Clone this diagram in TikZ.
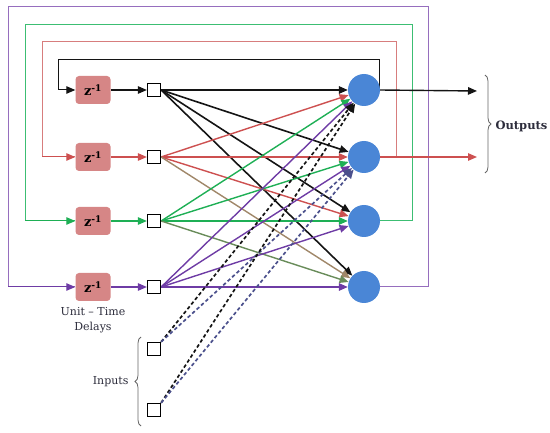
\documentclass[tikz,border=0pt]{standalone}
\usepackage{fontspec}
\setmainfont{DejaVu Serif}
\usetikzlibrary{arrows.meta,backgrounds,decorations.pathreplacing}
\definecolor{cblk}{RGB}{20,20,20}
\definecolor{cred}{RGB}{205,80,80}
\definecolor{cgrn}{RGB}{30,175,85}
\definecolor{cpur}{RGB}{110,60,165}
\definecolor{ctan}{RGB}{160,135,105}
\definecolor{coli}{RGB}{105,140,90}
\definecolor{lred}{RGB}{215,125,125}
\definecolor{lgrn}{RGB}{60,190,115}
\definecolor{lpur}{RGB}{150,110,190}
\definecolor{cdash}{RGB}{75,80,140}
\definecolor{zfill}{RGB}{214,134,134}
\definecolor{nfill}{RGB}{74,134,214}
\definecolor{ctxt}{RGB}{45,45,60}
\tikzset{
  tip/.style={-{Triangle[length=9pt,width=7.5pt]}},
  zbox/.style={draw=none,fill=zfill,rounded corners=3.5pt,minimum width=35pt,minimum height=28pt,inner sep=0pt,font=\fontsize{13}{15}\selectfont\bfseries},
  sq/.style={draw=black,fill=white,minimum size=13.5pt,inner sep=0pt,line width=0.8pt},
  neuron/.style={circle,fill=nfill,draw=none,minimum size=32pt,inner sep=0pt},
  conn/.style={tip,line width=1.4pt},
  loop/.style={line width=1pt},
  dsh/.style={tip,dashed,dash pattern=on 3.5pt off 2.5pt,line width=1.7pt},
  lbl/.style={font=\fontsize{11}{15}\selectfont,text=ctxt,align=center},
  blbl/.style={font=\fontsize{11.5}{15}\selectfont\bfseries,text=ctxt,align=center}
}
\begin{document}
\begin{tikzpicture}[x=1pt,y=-1pt]
\useasboundingbox (0,0) rectangle (550,433);
% nodes
\foreach \i/\y in {1/90,2/157,3/221,4/287}{
  \node[zbox] (z\i) at (93,\y) {z\textsuperscript{-1}};
  \node[sq] (s\i) at (154,\y) {};
  \node[neuron] (n\i) at (364,\y) {};
}
\node[sq] (in1) at (154,349) {};
\node[sq] (in2) at (154,410) {};
\coordinate (o1) at (477,91);
\coordinate (o2) at (477,157);
\coordinate (b1) at (379,91);
\coordinate (b2) at (396,157);
\coordinate (t1) at (379,60);  \coordinate (l1) at (58,60);
\coordinate (t2) at (396,42);  \coordinate (l2) at (42,42);
\coordinate (t3) at (412,25);  \coordinate (l3) at (25,25);
\coordinate (t4) at (428,7);   \coordinate (l4) at (8,7);
\node[lbl] (utd) at (93,320) {Unit – Time\\Delays};
\node[blbl,anchor=west] (outl) at (492,126) {Outputs};
\node[lbl,anchor=east] (inl) at (132,382) {Inputs};
\begin{scope}[on background layer]
% feedback loops
\draw[loop,cblk,tip] (b1) -- (t1) -- (l1) |- (z1.west);
\draw[loop,lred] (b2) -- (t2) -- (l2) |- (z2.west);
\draw[loop,cred,tip] (l2 |- z2.west) -- (z2.west);
\draw[loop,lgrn] (n3.east) -| (t3) -- (l3) |- (z3.west);
\draw[loop,cgrn,tip] (l3 |- z3.west) -- (z3.west);
\draw[loop,lpur] (n4.east) -| (t4) -- (l4) |- (z4.west);
\draw[loop,cpur,tip] (l4 |- z4.west) -- (z4.west);
% outputs
\draw[conn,cblk] (n1.east) -- (o1);
\draw[conn,cred,line width=1.2pt] (n2.east) -- (o2);
% delay to square
\draw[conn,cblk,line width=1.2pt] (z1.east) -- (s1.west);
\draw[conn,cred,line width=1.2pt] (z2.east) -- (s2.west);
\draw[conn,cgrn,line width=1.2pt] (z3.east) -- (s3.west);
\draw[conn,cpur,line width=1.2pt] (z4.east) -- (s4.west);
% full connections
\foreach \j in {1,2,3,4}{
  \draw[conn,cblk,line width=1.6pt] (s1.east) -- (n\j);
}
\draw[conn,cred] (s2.east) -- (n1);
\draw[conn,cred] (s2.east) -- (n2);
\draw[conn,cred] (s2.east) -- (n3);
\draw[conn,ctan] (s2.east) -- (n4);
\draw[conn,cgrn] (s3.east) -- (n1);
\draw[conn,cgrn] (s3.east) -- (n2);
\draw[conn,cgrn] (s3.east) -- (n3);
\draw[conn,coli] (s3.east) -- (n4);
\foreach \j in {1,2,3,4}{
  \draw[conn,cpur] (s4.east) -- (n\j);
}
% inputs (dashed)
\draw[dsh,cblk] (in1.north east) -- (n1);
\draw[dsh,cdash] (in1.north east) -- (n2);
\draw[dsh,cblk] (in2.north east) -- (n1);
\draw[dsh,cdash] (in2.north east) -- (n2);
\end{scope}
% braces
\draw[black!60,line width=0.8pt,decorate,decoration={brace,amplitude=6pt}] (485,75) -- (485,173);
\draw[black!60,line width=0.8pt,decorate,decoration={brace,amplitude=6pt,mirror}] (141,337) -- (141,426);
\end{tikzpicture}
\end{document}
